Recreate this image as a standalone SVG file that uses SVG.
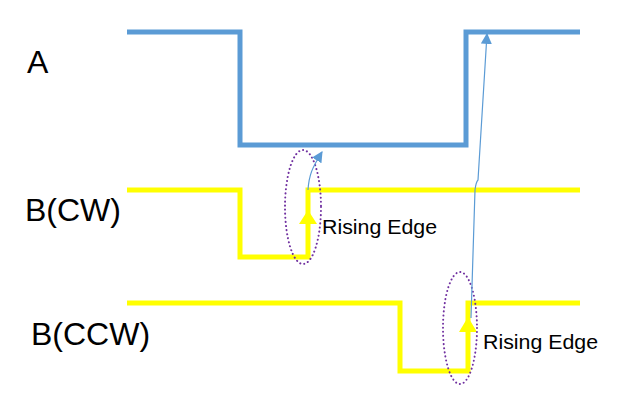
<svg xmlns="http://www.w3.org/2000/svg" width="623" height="402" viewBox="0 0 623 402">
<defs>
<style>
.lbl{font-family:"Liberation Sans",Arial,sans-serif;fill:#000;}
.big{font-size:32px;}
.small{font-size:20px;}
.sigA{fill:none;stroke:#5B9BD5;stroke-width:5;stroke-linejoin:miter;}
.sigB{fill:none;stroke:#FFFF00;stroke-width:5;stroke-linejoin:miter;}
.ell{fill:none;stroke:#7030A0;stroke-width:2;stroke-dasharray:0.1 4;stroke-linecap:round;}
.conn{fill:none;stroke:#5B9BD5;stroke-width:1.2;}
.yarr{fill:#FFFF00;}
</style>
<marker id="barr" viewBox="0 0 10 10" refX="9" refY="5" markerWidth="11" markerHeight="11" markerUnits="userSpaceOnUse" orient="auto">
<path d="M0,0 L10,5 L0,10 z" fill="#5B9BD5"/>
</marker>
</defs>
<rect width="623" height="402" fill="#fff"/>
<g id="signalA">
<polyline class="sigA" points="127,32 240,32 240,145 466,145 466,32 580,32"/>
<text class="lbl big" x="27" y="73">A</text>
</g>
<g id="signalBCW">
<polyline class="sigB" points="127,190 240,190 240,257 308,257 308,190 580,190"/>
<polygon class="yarr" points="308,210 299,224 317,224"/>
<text class="lbl big" x="25" y="221">B(CW)</text>
</g>
<g id="signalBCCW">
<polyline class="sigB" points="127,303 400,303 400,371 468,371 468,303 580,303"/>
<polygon class="yarr" points="468,317 459,332 477,332"/>
<text class="lbl big" x="31" y="345">B(CCW)</text>
</g>
<g id="edgeCW">
<ellipse class="ell" cx="303" cy="207" rx="18" ry="57"/>
<text class="lbl small" x="322" y="234" textLength="115" lengthAdjust="spacingAndGlyphs">Rising Edge</text>
</g>
<g id="edgeCCW">
<ellipse class="ell" cx="460" cy="328" rx="17" ry="56"/>
<text class="lbl small" x="483" y="349" textLength="115" lengthAdjust="spacingAndGlyphs">Rising Edge</text>
</g>
<g id="connectors">
<path class="conn" d="M308,190 C309,175 312,168 322,152" marker-end="url(#barr)"/>
<path class="conn" d="M471,318 L475,190 Q476,182 478,180 L487,34" marker-end="url(#barr)"/>
</g>
</svg>
